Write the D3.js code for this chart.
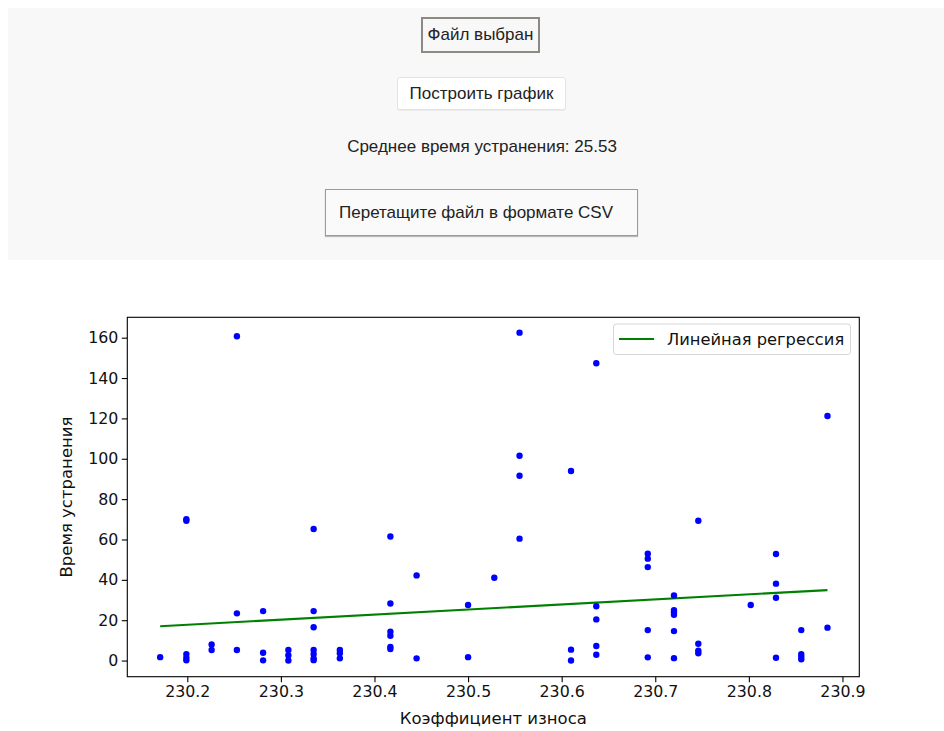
<!DOCTYPE html>
<html>
<head>
<meta charset="utf-8">
<script src="https://cdn.jsdelivr.net/npm/d3@7"></script>
<style>
  html, body { margin: 0; padding: 0; background: #ffffff; width: 944px; height: 731px; overflow: hidden; }
  body { position: relative; font-family: "Liberation Sans", Arial, sans-serif; color: #222; }
  #panel { position: absolute; left: 8px; top: 8px; width: 950px; height: 252px; background: #f8f8f8; }
  .el { position: absolute; box-sizing: border-box; font-size: 17px; display: flex; align-items: center; justify-content: center; white-space: nowrap; }
  #fileBtn { left: 421px; top: 17px; width: 119px; height: 36px; border: 2px solid #8c8a82; background: #f8f8f8; }
  #plotBtn { left: 397px; top: 77px; width: 169px; height: 33px; border: 1px solid #e4e4e4; border-radius: 3px; background: #ffffff; box-shadow: 0 1px 1px rgba(0,0,0,0.06); }
  #meanTxt { left: 282px; top: 134px; width: 400px; height: 26px; }
  #drop { left: 325px; top: 189px; width: 313px; height: 47px; border: 1px solid #9a9a9a; background: #fafafa; justify-content: flex-start; padding-left: 13px; box-shadow: 0 1px 1px rgba(0,0,0,0.25); }
  #chart { position: absolute; left: 0; top: 0; }
</style>
</head>
<body>
<div id="panel"></div>
<div class="el" id="fileBtn">Файл выбран</div>
<div class="el" id="plotBtn">Построить график</div>
<div class="el" id="meanTxt">Среднее время устранения: 25.53</div>
<div class="el" id="drop">Перетащите файл в формате CSV</div>
<svg id="chart" width="944" height="731"></svg>
<script>
// ---- data ----
const wearCoef = [
  230.171,
  230.199, 230.199, 230.199, 230.199, 230.199,
  230.226, 230.226,
  230.253, 230.253, 230.253,
  230.281, 230.281, 230.281,
  230.308, 230.308, 230.308,
  230.335, 230.335, 230.335, 230.335, 230.335, 230.335, 230.335,
  230.363, 230.363, 230.363,
  230.417, 230.417, 230.417, 230.417, 230.417, 230.417,
  230.445, 230.445,
  230.500, 230.500,
  230.528,
  230.555, 230.555, 230.555, 230.555,
  230.610, 230.610, 230.610,
  230.637, 230.637, 230.637, 230.637, 230.637,
  230.692, 230.692, 230.692, 230.692, 230.692,
  230.720, 230.720, 230.720, 230.720, 230.720, 230.720,
  230.746, 230.746, 230.746, 230.746,
  230.802,
  230.829, 230.829, 230.829, 230.829,
  230.856, 230.856, 230.856, 230.856,
  230.884, 230.884
];
const fixTime = [
  1.7,
  70.0, 69.3, 3.2, 1.4, 0.1,
  8.0, 5.2,
  160.7, 23.4, 5.2,
  24.5, 3.9, 0.1,
  5.2, 2.6, 0.0,
  65.2, 24.5, 16.5, 5.2, 3.2, 1.1, 0.2,
  5.2, 3.6, 1.1,
  61.5, 28.3, 14.3, 12.3, 6.8, 5.7,
  42.2, 1.1,
  27.5, 1.7,
  41.0,
  162.5, 101.5, 91.6, 60.4,
  93.9, 5.4, 0.0,
  147.3, 26.9, 20.4, 7.2, 2.9,
  52.9, 50.5, 46.3, 15.1, 1.6,
  32.3, 25.0, 23.9, 22.7, 14.6, 1.2,
  69.3, 8.3, 4.9, 3.6,
  27.5,
  52.8, 38.1, 31.1, 1.4,
  15.1, 3.2, 1.9, 0.6,
  121.2, 16.3
];
// regression line end points (fitted values, as drawn)
const regX = [230.171, 230.884];
const regY = [17.0, 34.9];
const xTicks = [230.2, 230.3, 230.4, 230.5, 230.6, 230.7, 230.8, 230.9];
const yTicks = [0, 20, 40, 60, 80, 100, 120, 140, 160];
const xLabel = "Коэффициент износа";
const yLabel = "Время устранения";
const legendLabel = "Линейная регрессия";

// ---- layout ----
const L = 127.3, R = 859.3, T = 317.3, B = 676.7;
const svg = d3.select("#chart");
const font = "'DejaVu Sans', sans-serif";

const x = d3.scaleLinear().domain([230.1359, 230.918]).range([L, R]);
const y = d3.scaleLinear().domain([-8.0, 170.1]).range([B, T]);

// white figure background
svg.append("rect").attr("x", 0).attr("y", 261).attr("width", 944).attr("height", 470).attr("fill", "#ffffff");

const g = svg.append("g");

// regression line
g.append("line")
  .attr("x1", x(regX[0])).attr("y1", y(regY[0]))
  .attr("x2", x(regX[1])).attr("y2", y(regY[1]))
  .attr("stroke", "#008000").attr("stroke-width", 2.1);

// points
const pts = wearCoef.map((v, i) => ({ x: v, y: fixTime[i] }));
g.selectAll("circle.pt").data(pts).enter().append("circle")
  .attr("class", "pt")
  .attr("cx", d => x(d.x)).attr("cy", d => y(d.y)).attr("r", 3.2)
  .attr("fill", "#0000ff");

// axes
const xAxis = d3.axisBottom(x).tickValues(xTicks).tickFormat(d3.format(".1f")).tickSize(5.5).tickPadding(4);
const yAxis = d3.axisLeft(y).tickValues(yTicks).tickFormat(d3.format("d")).tickSize(5.5).tickPadding(3.5);

const gx = svg.append("g").attr("transform", `translate(0,${B})`).call(xAxis);
const gy = svg.append("g").attr("transform", `translate(${L},0)`).call(yAxis);
[gx, gy].forEach(a => {
  a.select(".domain").remove();
  a.selectAll(".tick line").attr("stroke", "#000").attr("stroke-width", 1.1);
  a.selectAll(".tick text").attr("fill", "#111").style("font-family", font).style("font-size", "15.8px");
});
gx.selectAll(".tick text").attr("dy", "0.71em");

// frame
svg.append("rect").attr("x", L).attr("y", T).attr("width", R - L).attr("height", B - T)
  .attr("fill", "none").attr("stroke", "#000").attr("stroke-width", 1.1);

// axis labels
svg.append("text").attr("x", (L + R) / 2).attr("y", 724).attr("text-anchor", "middle")
  .style("font-family", font).style("font-size", "16.5px").attr("fill", "#111").text(xLabel);
svg.append("text").attr("transform", `translate(72,${(T + B) / 2}) rotate(-90)`).attr("text-anchor", "middle")
  .style("font-family", font).style("font-size", "16.5px").attr("fill", "#111").text(yLabel);

// legend
const lg = svg.append("g");
lg.append("rect").attr("x", 613.5).attr("y", 324).attr("width", 237).attr("height", 30.5).attr("rx", 3)
  .attr("fill", "#ffffff").attr("fill-opacity", 0.8).attr("stroke", "#d6d6d6").attr("stroke-width", 1);
lg.append("line").attr("x1", 619).attr("x2", 654).attr("y1", 339).attr("y2", 339)
  .attr("stroke", "#008000").attr("stroke-width", 2.1);
lg.append("text").attr("x", 667).attr("y", 344.5)
  .style("font-family", font).style("font-size", "16.3px").attr("fill", "#111").text(legendLabel);
</script>
</body>
</html>
